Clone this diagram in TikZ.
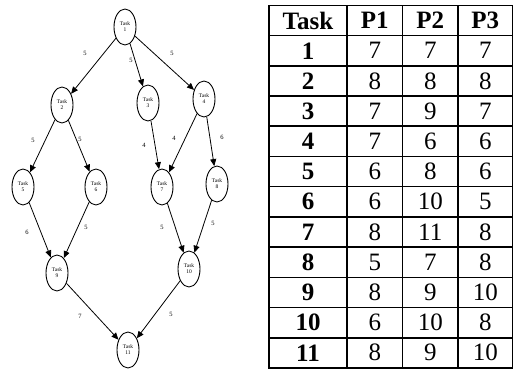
\documentclass[tikz,border=0pt]{standalone}
\usepackage{fontspec}
\setmainfont{Liberation Serif}
\usetikzlibrary{shapes.geometric,arrows.meta}
\begin{document}
\begin{tikzpicture}[x=1pt,y=-1pt,
  task/.style={draw, line width=0.9pt, ellipse, minimum width=22pt, minimum height=36pt, inner sep=0pt, align=center, font=\fontsize{5.5}{6}\selectfont},
  dep/.style={-{Triangle[length=7pt,width=6pt]}, line width=0.8pt},
  wt/.style={font=\fontsize{6.5}{7}\selectfont, inner sep=0pt},
  cell/.style={font=\fontsize{25}{27}\selectfont, inner sep=0pt},
  hcell/.style={font=\fontsize{25}{27}\selectfont\bfseries, inner sep=0pt},
  grid/.style={line width=1.6pt}]
\useasboundingbox (0,0) rectangle (515,369);
% task graph
\node[task] (t1) at (125,27) {Task\\1};
\node[task] (t2) at (62,105) {Task\\2};
\node[task] (t3) at (148,103) {Task\\3};
\node[task] (t4) at (204,99) {Task\\4};
\node[task] (t5) at (23,187) {Task\\5};
\node[task] (t6) at (96,187) {Task\\6};
\node[task] (t7) at (162,187) {Task\\7};
\node[task] (t8) at (217,184) {Task\\8};
\node[task] (t9) at (57,273) {Task\\9};
\node[task] (t10) at (189,269) {Task\\10};
\node[task] (t11) at (128,350) {Task\\11};
\draw[dep] (t1) -- (t2);
\draw[dep] (t1) -- (t3);
\draw[dep] (t1) -- (t4);
\draw[dep] (t2) -- (t5);
\draw[dep] (t2) -- (t6);
\draw[dep] (t3) -- (t7);
\draw[dep] (t4) -- (t7);
\draw[dep] (t4) -- (t8);
\draw[dep] (t5) -- (t9);
\draw[dep] (t6) -- (t9);
\draw[dep] (t7) -- (t10);
\draw[dep] (t8) -- (t10);
\draw[dep] (t9) -- (t11);
\draw[dep] (t10) -- (t11);
\node[wt] (w12) at (85,53) {5};
\node[wt] (w13) at (131,60) {5};
\node[wt] (w14) at (172,53) {5};
\node[wt] (w25) at (33,140) {5};
\node[wt] (w26) at (80,139) {5};
\node[wt] (w37) at (144,145) {4};
\node[wt] (w47) at (174,138) {4};
\node[wt] (w48) at (222,137) {6};
\node[wt] (w59) at (27,232) {6};
\node[wt] (w69) at (86,227) {5};
\node[wt] (w710) at (162,227) {5};
\node[wt] (w810) at (213,223) {5};
\node[wt] (w911) at (80,316) {7};
\node[wt] (w1011) at (171,314) {5};
% table
\def\rt{5.5}\def\rh{30.2}
\draw[grid] (269,\rt) rectangle (512.5,{\rt+12*\rh});
\foreach \k in {1,...,11} \draw[grid] (269,{\rt+\rh*\k}) -- (512.5,{\rt+\rh*\k});
\foreach \x in {347,402.5,458} \draw[grid] (\x,\rt) -- (\x,{\rt+12*\rh});
\node[hcell] (h0) at (308,{\rt+0.5*\rh}) {Task};
\node[hcell] (h1) at (374.75,{\rt+0.5*\rh}) {P1};
\node[hcell] (h2) at (430.25,{\rt+0.5*\rh}) {P2};
\node[hcell] (h3) at (485.25,{\rt+0.5*\rh}) {P3};
\foreach \t/\a/\b/\c [count=\i] in {1/7/7/7,2/8/8/8,3/7/9/7,4/7/6/6,5/6/8/6,6/6/10/5,7/8/11/8,8/5/7/8,9/8/9/10,10/6/10/8,11/8/9/10}{
  \node[hcell] (r\i c0) at (308,{\rt+\rh*(\i+0.5)}) {\t};
  \node[cell] (r\i c1) at (374.75,{\rt+\rh*(\i+0.5)}) {\a};
  \node[cell] (r\i c2) at (430.25,{\rt+\rh*(\i+0.5)}) {\b};
  \node[cell] (r\i c3) at (485.25,{\rt+\rh*(\i+0.5)}) {\c};
}
\end{tikzpicture}
\end{document}
